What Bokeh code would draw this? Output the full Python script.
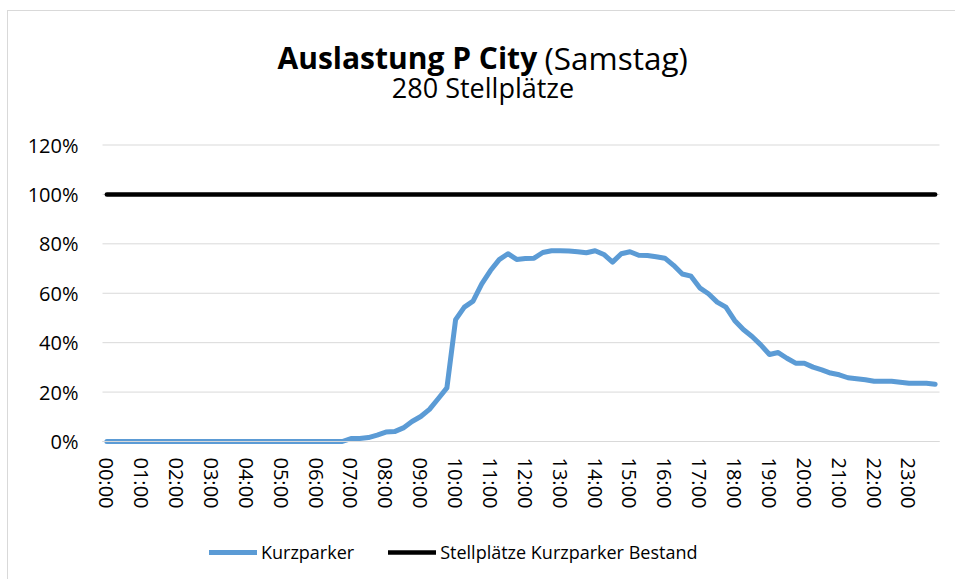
from bokeh.plotting import figure
from bokeh.models import (ColumnDataSource, FixedTicker, Label, Legend, LegendItem,
                          Range1d)
from bokeh.embed import file_html
from bokeh.resources import INLINE

# ---------------- data ----------------
title_bold = "Auslastung P City"
title_regular = "(Samstag)"
subtitle = "280 Stellplätze"

time_slots = [f"{h:02d}:{m:02d}" for h in range(24) for m in (0, 15, 30, 45)]

kurzparker = [
    0, 0, 0, 0, 0, 0, 0, 0, 0, 0, 0, 0, 0, 0, 0, 0,
    0, 0, 0, 0, 0, 0, 0, 0, 0, 0, 0, 0,
    1.2, 1.2, 1.6, 2.6, 3.8, 4.0, 5.5, 8.1, 10.1, 13.0, 17.3, 21.7,
    49.3, 54.4, 56.8, 63.8, 69.2, 73.6, 76.0, 73.7,
    74.1, 74.2, 76.5, 77.2, 77.2, 77.1, 76.8, 76.4,
    77.2, 75.7, 72.6, 76.0, 76.8, 75.4, 75.3, 74.8,
    74.2, 71.3, 67.8, 66.9, 62.2, 59.8, 56.4, 54.4,
    49.0, 45.3, 42.5, 39.1, 35.2, 36.0, 33.7, 31.7,
    31.7, 30.1, 29.0, 27.7, 27.0, 25.8, 25.4, 25.0,
    24.4, 24.4, 24.4, 24.0, 23.6, 23.6, 23.6, 23.2,
]
bestand = [100] * len(time_slots)

series_names = ["Kurzparker", "Stellplätze Kurzparker Bestand"]
series_colors = ["#5B9BD5", "#000000"]

y_ticks = [0, 20, 40, 60, 80, 100, 120]
y_tick_labels = ["0%", "20%", "40%", "60%", "80%", "100%", "120%"]
x_tick_labels = [f"{h:02d}:00" for h in range(24)]

# ---------------- layout constants (canvas pixels) ----------------
FONT = "Open Sans"
W, H = 948, 569
GRID_LEFT, GRID_RIGHT = 94.0, 931.0    # plot area left/right
GRID_TOP, GRID_BOTTOM = 133.5, 430.0   # canvas y of the 120% and 0% lines

n = len(time_slots)
x_lo, x_hi = -0.5, n - 0.5
ppx = (GRID_RIGHT - GRID_LEFT) / (x_hi - x_lo)
x_start = x_lo - GRID_LEFT / ppx
x_end = x_hi + (W - GRID_RIGHT) / ppx
ppy = (GRID_BOTTOM - GRID_TOP) / (y_ticks[-1] - y_ticks[0])
y_start = y_ticks[0] - (H - GRID_BOTTOM) / ppy
y_end = y_ticks[-1] + GRID_TOP / ppy

idx = list(range(n))
src = ColumnDataSource(dict(x=idx, t=time_slots, kurz=kurzparker, bestand=bestand))
grid_src = ColumnDataSource(dict(x0=[x_lo] * len(y_ticks), x1=[x_hi] * len(y_ticks),
                                 y=y_ticks))

p = figure(width=W, height=H, output_backend="svg", toolbar_location=None,
           x_range=Range1d(x_start, x_end), y_range=Range1d(y_start, y_end),
           min_border_left=0, min_border_right=0,
           min_border_top=0, min_border_bottom=0)
p.styles = {"margin-left": "7px", "margin-top": "10px",
            "border-left": "1px solid #d9d9d9", "border-top": "1px solid #d9d9d9"}
p.outline_line_color = None
p.background_fill_color = "white"
p.border_fill_color = "white"
p.xgrid.grid_line_color = None
p.ygrid.grid_line_color = None

# horizontal gridlines across the plot area
p.segment(x0="x0", x1="x1", y0="y", y1="y", source=grid_src,
          line_color="#d9d9d9", line_width=1)

r1 = p.line("x", "kurz", source=src, line_color=series_colors[0], line_width=5,
            line_cap="round", line_join="round")
r2 = p.line("x", "bestand", source=src, line_color=series_colors[1], line_width=4.5,
            line_cap="round", line_join="round")

# axes
hour_positions = [i for i in idx if i % 4 == 0]
p.xaxis.fixed_location = y_ticks[0]
p.xaxis.bounds = (x_lo, x_hi)
p.xaxis.ticker = FixedTicker(ticks=hour_positions)
p.xaxis.major_label_overrides = {pos: lab for pos, lab in zip(hour_positions, x_tick_labels)}
p.xaxis.major_label_orientation = "vertical"
p.xaxis.major_tick_in = 0
p.xaxis.major_tick_out = 0
p.xaxis.minor_tick_line_color = None
p.xaxis.axis_line_color = "#d9d9d9"
p.xaxis.major_label_standoff = 16
p.xaxis.major_label_text_font = FONT
p.xaxis.major_label_text_font_size = "20px"
p.xaxis.major_label_text_color = "#000000"

p.yaxis.fixed_location = x_lo
p.yaxis.bounds = (y_ticks[0], y_ticks[-1])
p.yaxis.ticker = FixedTicker(ticks=y_ticks)
p.yaxis.major_label_overrides = {v: lab for v, lab in zip(y_ticks, y_tick_labels)}
p.yaxis.major_tick_in = 0
p.yaxis.major_tick_out = 0
p.yaxis.minor_tick_line_color = None
p.yaxis.axis_line_color = None
p.yaxis.major_label_standoff = 24
p.yaxis.major_label_text_font = FONT
p.yaxis.major_label_text_font_size = "20px"
p.yaxis.major_label_text_color = "#000000"

# titles (screen units: x from frame left, y up from frame bottom)
p.add_layout(Label(x=528.7, y=H - 45.7, x_units="screen", y_units="screen",
                   text=title_bold, text_font=FONT, text_font_style="bold",
                   text_font_size="30px", text_align="right", text_baseline="alphabetic",
                   text_color="#000000"))
p.add_layout(Label(x=536, y=H - 45.7, x_units="screen", y_units="screen",
                   text=title_regular, text_font=FONT, text_font_style="normal",
                   text_font_size="31.5px", text_align="left", text_baseline="alphabetic",
                   text_color="#000000"))
p.add_layout(Label(x=474.5, y=H - 75.7, x_units="screen", y_units="screen",
                   text=subtitle, text_font=FONT, text_font_size="27px",
                   text_align="center", text_baseline="alphabetic", text_color="#000000"))

legend = Legend(items=[LegendItem(label=series_names[0], renderers=[r1]),
                       LegendItem(label=series_names[1], renderers=[r2])],
                orientation="horizontal", location=(GRID_LEFT + 107, 16),
                glyph_width=48, glyph_height=20, label_height=20,
                label_standoff=4, spacing=34, padding=0, margin=0,
                border_line_color=None, background_fill_alpha=0,
                label_text_font=FONT, label_text_font_size="18px",
                label_text_color="#000000")
p.add_layout(legend, "center")

open("out.html", "w").write(file_html(p, INLINE))
